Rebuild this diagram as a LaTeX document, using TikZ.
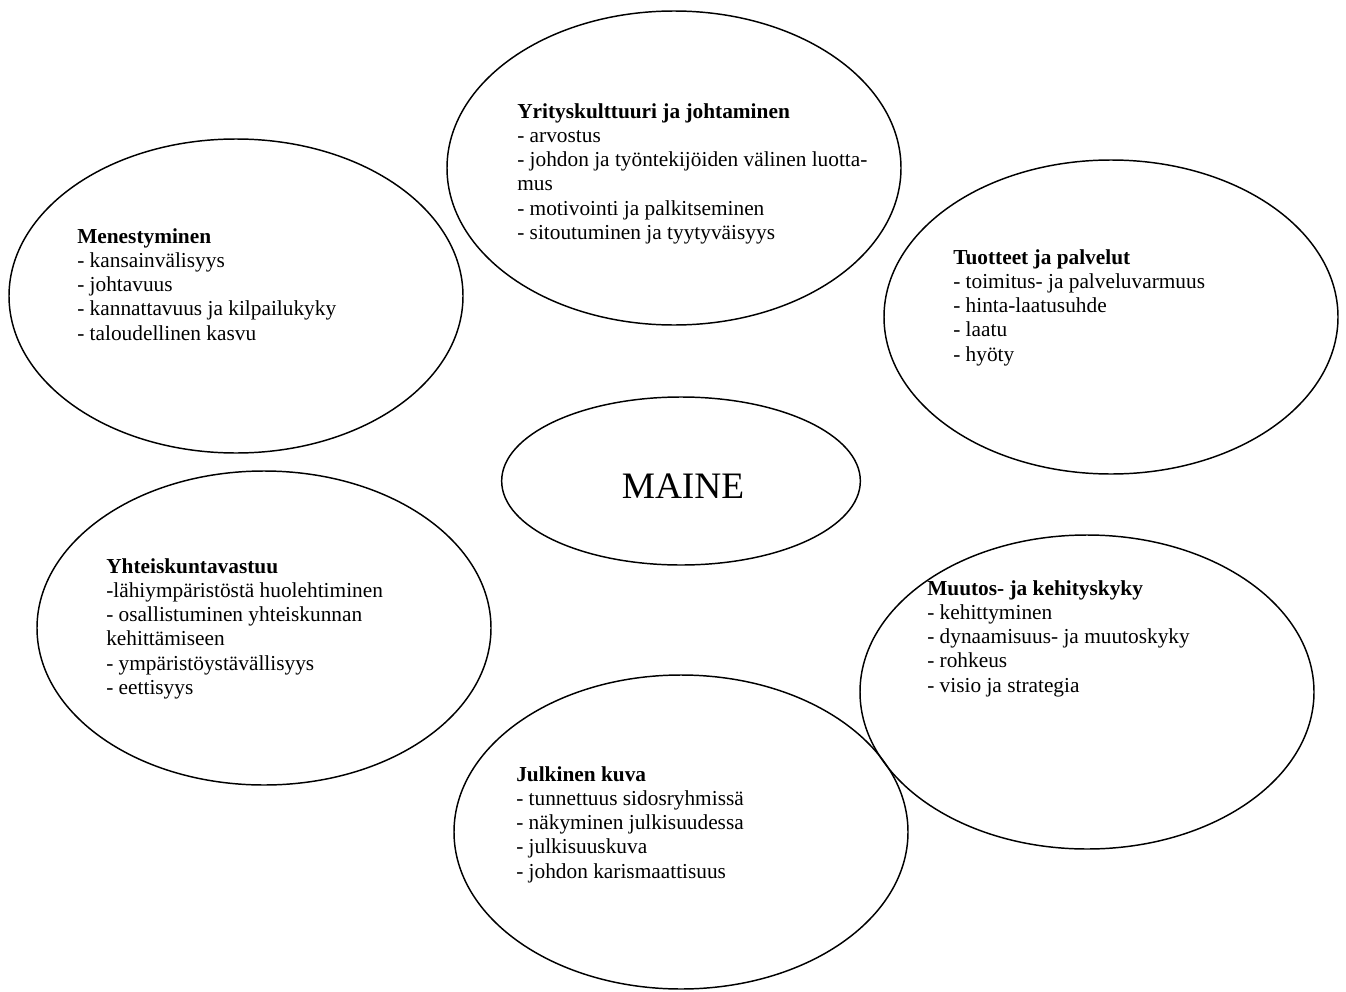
\documentclass[tikz,border=0pt]{standalone}
\usepackage{fontspec}
\setmainfont{Liberation Serif}
\usetikzlibrary{shapes.geometric}
\begin{document}
\begin{tikzpicture}[x=0.75pt,y=-0.75pt,
	oval/.style={draw,ellipse,line width=1.1pt,inner sep=0pt,minimum width=340.5pt,minimum height=235.5pt},
	lst/.style={anchor=north west,align=left,inner sep=0pt,font=\fontsize{16pt}{18.2pt}\selectfont}]
	\useasboundingbox (0,0) rectangle (1346,992);
	\node[oval] (o1) at (674,168) {};
	\node[oval] (o2) at (236,296) {};
	\node[oval] (o3) at (1111,317) {};
	\node[oval,minimum width=269pt,minimum height=126pt] (m) at (681,481) {};
	\node[oval] (o4) at (264,628) {};
	\node[oval] (o5) at (1087,692) {};
	\node[oval] (o6) at (681,832) {};
	\node[anchor=base,inner sep=0pt,font=\fontsize{28pt}{32pt}\selectfont] (mt) at (683,498) {MAINE};
	\node[lst] (t1) at (517,103) {\textbf{Yrityskulttuuri ja johtaminen}\\- arvostus\\- johdon ja työntekijöiden välinen luotta-\\mus\\- motivointi ja palkitseminen\\- sitoutuminen ja tyytyväisyys};
	\node[lst] (t2) at (77,228) {\textbf{Menestyminen}\\- kansainvälisyys\\- johtavuus\\- kannattavuus ja kilpailukyky\\- taloudellinen kasvu};
	\node[lst] (t3) at (953,249) {\textbf{Tuotteet ja palvelut}\\- toimitus- ja palveluvarmuus\\- hinta-laatusuhde\\- laatu\\- hyöty};
	\node[lst] (t4) at (106,558) {\textbf{Yhteiskuntavastuu}\\-lähiympäristöstä huolehtiminen\\- osallistuminen yhteiskunnan\\kehittämiseen\\- ympäristöystävällisyys\\- eettisyys};
	\node[lst] (t5) at (927,580) {\textbf{Muutos- ja kehityskyky}\\- kehittyminen\\- dynaamisuus- ja muutoskyky\\- rohkeus\\- visio ja strategia};
	\node[lst] (t6) at (516,766) {\textbf{Julkinen kuva}\\- tunnettuus sidosryhmissä\\- näkyminen julkisuudessa\\- julkisuuskuva\\- johdon karismaattisuus};
\end{tikzpicture}
\end{document}
